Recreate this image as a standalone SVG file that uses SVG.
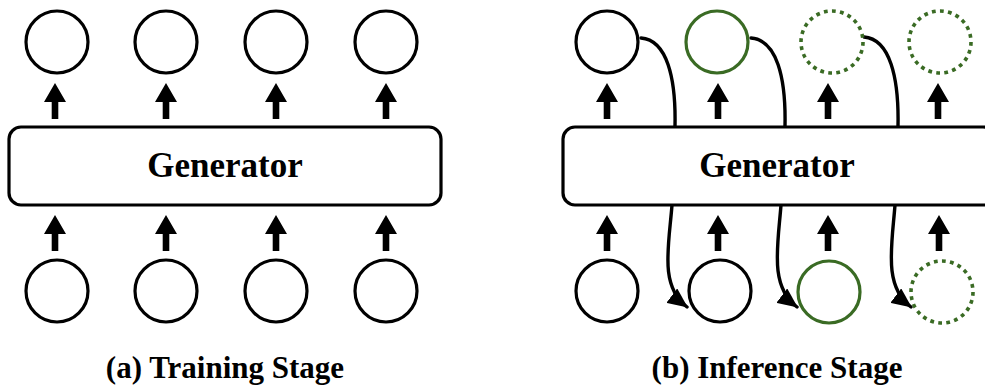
<svg xmlns="http://www.w3.org/2000/svg" xmlns:xlink="http://www.w3.org/1999/xlink" width="985" height="387" viewBox="0 0 985 387">
  <style>
    .tok { fill: #ffffff; stroke: #000000; stroke-width: 3.2; }
    .tok.green { stroke: #3a6b24; }
    .tok.dotted { stroke: #3a6b24; stroke-width: 3.6; stroke-dasharray: 3.8 4.3; }
    .box { fill: #ffffff; stroke: #000000; stroke-width: 3.2; }
    .label { font-family: "Liberation Serif", "Times New Roman", serif; font-weight: bold; fill: #000000; text-anchor: middle; }
    .feed { fill: none; stroke: #000000; stroke-width: 3.4; stroke-linecap: round; }
  </style>
  <defs>
    <!-- upward block arrow, tip at origin -->
    <path id="up" d="M0,0 L11,19 L3.3,19 L3.3,36 L-3.3,36 L-3.3,19 L-11,19 Z" fill="#000000"/>
    <marker id="head" markerUnits="userSpaceOnUse" viewBox="0 0 20 18" refX="19" refY="9" markerWidth="20" markerHeight="18" orient="auto">
      <path d="M0,0 L20,9 L0,18 Z" fill="#000000"/>
    </marker>
  </defs>

  <!-- feedback connectors (b): output token fed back as next input -->
  <g id="connectors">
    <path class="feed" d="M641,38 C667,40 676,78 675,126 L672,205 C669,245 659,286 687,307" marker-end="url(#head)"/>
    <path class="feed" d="M751,38 C777,40 786,78 785,126 L781,205 C778,245 769,286 797,307" marker-end="url(#head)"/>
    <path class="feed" d="M864,37 C890,39 899,78 898,126 L895,205 C892,245 883,286 911,307" marker-end="url(#head)"/>
  </g>

  <!-- (a) Training Stage -->
  <g id="train-generator">
    <rect class="box" x="9" y="127" width="432" height="78" rx="12"/>
    <text class="label" x="225" y="177" font-size="35">Generator</text>
  </g>
  <g id="train-out-1"><circle class="tok" cx="57" cy="42" r="31"/></g>
  <g id="train-out-2"><circle class="tok" cx="166" cy="42" r="31"/></g>
  <g id="train-out-3"><circle class="tok" cx="276" cy="42" r="31"/></g>
  <g id="train-out-4"><circle class="tok" cx="386" cy="42" r="31"/></g>
  <g id="train-in-1"><circle class="tok" cx="57" cy="291" r="31"/></g>
  <g id="train-in-2"><circle class="tok" cx="166" cy="291" r="31"/></g>
  <g id="train-in-3"><circle class="tok" cx="276" cy="291" r="31"/></g>
  <g id="train-in-4"><circle class="tok" cx="386" cy="291" r="31"/></g>
  <g id="train-arrows">
    <use xlink:href="#up" x="55" y="83"/>
    <use xlink:href="#up" x="166" y="83"/>
    <use xlink:href="#up" x="276" y="83"/>
    <use xlink:href="#up" x="386" y="83"/>
    <use xlink:href="#up" x="55" y="215"/>
    <use xlink:href="#up" x="166" y="215"/>
    <use xlink:href="#up" x="276" y="215"/>
    <use xlink:href="#up" x="386" y="215"/>
  </g>
  <g id="caption-a">
    <text class="label" x="225" y="378" font-size="31">(a) Training Stage</text>
  </g>

  <!-- (b) Inference Stage -->
  <g id="infer-generator">
    <rect class="box" x="563" y="127" width="432" height="78" rx="12"/>
    <text class="label" x="777" y="177" font-size="35">Generator</text>
  </g>
  <g id="infer-out-1"><circle class="tok" cx="607" cy="42" r="31"/></g>
  <g id="infer-out-2"><circle class="tok green" cx="717" cy="42" r="31"/></g>
  <g id="infer-out-3"><circle class="tok dotted" cx="832" cy="42" r="31"/></g>
  <g id="infer-out-4"><circle class="tok dotted" cx="940" cy="42" r="31"/></g>
  <g id="infer-in-1"><circle class="tok" cx="607" cy="291" r="31"/></g>
  <g id="infer-in-2"><circle class="tok" cx="720" cy="291" r="31"/></g>
  <g id="infer-in-3"><circle class="tok green" cx="829" cy="292" r="31"/></g>
  <g id="infer-in-4"><circle class="tok dotted" cx="942" cy="292" r="31"/></g>
  <g id="infer-arrows">
    <use xlink:href="#up" x="607" y="83"/>
    <use xlink:href="#up" x="718" y="83"/>
    <use xlink:href="#up" x="828" y="83"/>
    <use xlink:href="#up" x="938" y="83"/>
    <use xlink:href="#up" x="607" y="215"/>
    <use xlink:href="#up" x="718" y="215"/>
    <use xlink:href="#up" x="828" y="215"/>
    <use xlink:href="#up" x="939" y="215"/>
  </g>
  <g id="caption-b">
    <text class="label" x="777" y="378" font-size="31">(b) Inference Stage</text>
  </g>
</svg>
